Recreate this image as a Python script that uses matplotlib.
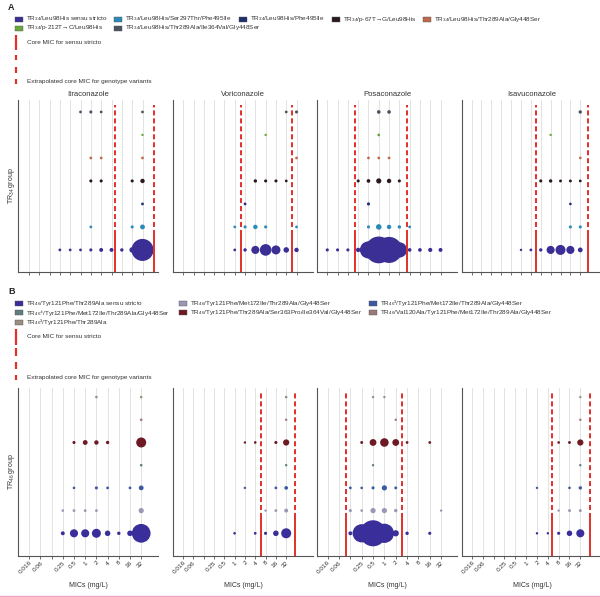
import numpy as np
import matplotlib
matplotlib.use('Agg')
import matplotlib.pyplot as plt
from matplotlib.lines import Line2D
from matplotlib.patches import Rectangle

plt.rcParams['font.family'] = ['Liberation Sans', 'DejaVu Sans']
plt.rcParams['mathtext.fontset'] = 'custom'
plt.rcParams['mathtext.rm'] = 'Liberation Sans'
plt.rcParams['mathtext.it'] = 'Liberation Sans'
plt.rcParams['mathtext.bf'] = 'Liberation Sans:bold'

W, H = 600, 597
RED = '#e3302a'
K = 2.0     # marker area per isolate
BASE = 2.0  # smallest marker area

DRUGS = ['Itraconazole', 'Voriconazole', 'Posaconazole', 'Isavuconazole']
MIC_B = ['0.016', '0.06', '', '0.25', '0.5', '1', '2', '4', '8', '16', '32']

A_LABELS = [r'TR$_{34}$/Leu98His sensu stricto',
            r'TR$_{34}$/Leu98His/Ser297Thr/Phe495Ile',
            r'TR$_{34}$/Leu98His/Phe495Ile',
            r'TR$_{34}$/p-67T→G/Leu98His',
            r'TR$_{34}$/Leu98His/Thr289Ala/Gly448Ser',
            r'TR$_{34}$/p-212T→C/Leu98His',
            r'TR$_{34}$/Leu98His/Thr289Ala/Ile364Val/Gly448Ser']
A_COLORS = ['#3b2f96', '#2a8ab8', '#1f2e6c', '#2a1a1e', '#c0694a', '#6aa83c', '#4b5464']

B_LABELS = [r'TR$_{46}$/Tyr121Phe/Thr289Ala sensu stricto',
            r'TR$_{46}$/Tyr121Phe/Met172Ile/Thr289Ala/Gly448Ser',
            r'TR$_{46}$³/Tyr121Phe/Met172Ile/Thr289Ala/Gly448Ser',
            r'TR$_{46}$⁴/Tyr121Phe/Met172Ile/Thr289Ala/Gly448Ser',
            r'TR$_{46}$/Tyr121Phe/Thr289Ala/Ser363Pro/Ile364Val/Gly448Ser',
            r'TR$_{46}$/Val120Ala/Tyr121Phe/Met172Ile/Thr289Ala/Gly448Ser',
            r'TR$_{46}$³/Tyr121Phe/Thr289Ala']
B_COLORS = ['#3a2f9a', '#9a96b4', '#3c5aa0', '#5f7e80', '#6e1a24', '#9a7a78', '#9a9080']

# dots: (row, MIC index, isolates)
A_ITRA = [(0, 3, 1), (0, 4, 1), (0, 5, 1), (0, 6, 1.5), (0, 7, 3), (0, 8, 3), (0, 9, 2),
          (0, 10, 7), (0, 11, 125),
          (1, 6, 1), (1, 10, 1.5), (1, 11, 5),
          (2, 11, 1),
          (3, 6, 1.5), (3, 7, 1.5), (3, 10, 1.5), (3, 11, 4),
          (4, 6, 1), (4, 7, 1), (4, 11, 1),
          (5, 11, 0.5),
          (6, 5, 1), (6, 6, 1.5), (6, 7, 1), (6, 11, 1)]
A_VORI = [(0, 5, 1), (0, 6, 2), (0, 7, 16), (0, 8, 34), (0, 9, 20), (0, 10, 7), (0, 11, 4),
          (1, 5, 1), (1, 6, 1.5), (1, 7, 4), (1, 8, 1.5), (1, 11, 1),
          (2, 6, 1),
          (3, 7, 2), (3, 8, 1.5), (3, 9, 1.5), (3, 10, 1),
          (4, 11, 1),
          (5, 8, 0.5),
          (6, 10, 1), (6, 11, 1.5)]
A_POSA = [(0, 0, 1.5), (0, 1, 1.5), (0, 2, 1.5), (0, 3, 4), (0, 4, 75), (0, 5, 185),
          (0, 6, 175), (0, 7, 60), (0, 8, 2.5), (0, 9, 2.5), (0, 10, 3.5), (0, 11, 3),
          (1, 4, 1.5), (1, 5, 7), (1, 6, 4), (1, 7, 2), (1, 8, 1),
          (2, 4, 1.5),
          (3, 3, 1.5), (3, 4, 2.5), (3, 5, 6), (3, 6, 4), (3, 7, 1.5),
          (4, 4, 1), (4, 5, 1), (4, 6, 1),
          (5, 5, 1),
          (6, 5, 2.5), (6, 6, 2.5)]
A_ISAV = [(0, 5, 0.5), (0, 6, 1), (0, 7, 2), (0, 8, 16), (0, 9, 25), (0, 10, 16), (0, 11, 5),
          (1, 10, 1.5), (1, 11, 1.5),
          (2, 10, 0.8),
          (3, 7, 1.5), (3, 8, 2), (3, 9, 1.2), (3, 10, 1.2), (3, 11, 1),
          (4, 11, 0.8),
          (5, 8, 0.5),
          (6, 11, 2)]

B_ITRA = [(0, 3, 3), (0, 4, 16), (0, 5, 16), (0, 6, 20), (0, 7, 7), (0, 8, 2), (0, 9, 7),
          (0, 10, 90),
          (1, 3, 0.8), (1, 4, 1), (1, 5, 1), (1, 6, 1), (1, 10, 6),
          (2, 4, 0.8), (2, 6, 1.5), (2, 7, 1), (2, 9, 1), (2, 10, 5),
          (3, 10, 0.8),
          (4, 4, 1.5), (4, 5, 5), (4, 6, 4), (4, 7, 2), (4, 10, 25),
          (5, 10, 0.8),
          (6, 6, 0.8), (6, 10, 0.8)]
B_VORI = [(0, 5, 0.8), (0, 7, 1), (0, 8, 1.5), (0, 9, 7), (0, 10, 25),
          (1, 8, 0.5), (1, 9, 1), (1, 10, 3),
          (2, 6, 0.5), (2, 9, 1), (2, 10, 2.5),
          (3, 10, 0.5),
          (4, 6, 0.5), (4, 7, 0.8), (4, 9, 1.5), (4, 10, 9),
          (5, 10, 0.5),
          (6, 10, 0.8)]
B_POSA = [(0, 2, 3), (0, 3, 85), (0, 4, 175), (0, 5, 95), (0, 6, 9), (0, 7, 2), (0, 9, 1.5),
          (1, 2, 1.5), (1, 3, 0.8), (1, 4, 6), (1, 5, 6), (1, 6, 2), (1, 10, 0.5),
          (2, 2, 1), (2, 3, 0.8), (2, 4, 1.5), (2, 5, 6), (2, 6, 1.2),
          (3, 4, 0.5),
          (4, 3, 1.2), (4, 4, 11), (4, 5, 18), (4, 6, 11), (4, 7, 1), (4, 9, 1),
          (5, 6, 0.5),
          (6, 4, 0.5), (6, 5, 0.5)]
B_ISAV = [(0, 6, 0.5), (0, 7, 0.5), (0, 8, 1.5), (0, 9, 7), (0, 10, 16),
          (1, 8, 0.5), (1, 9, 1.2), (1, 10, 1.2),
          (2, 6, 0.5), (2, 9, 0.8), (2, 10, 2),
          (3, 10, 0.5),
          (4, 8, 0.8), (4, 9, 1.2), (4, 10, 9),
          (5, 10, 0.5),
          (6, 10, 0.5)]

# core MIC lines (MIC index position) per drug
A_CORE = [(8.35, 12.1), (5.58, 10.55), (2.7, 7.7), (6.5, 11.75)]
B_CORE = [None, (7.6, 10.9), (1.65, 6.56), (7.4, 10.9)]

fig = plt.figure(figsize=(W / 100, H / 100), dpi=100)


def fx(x):
    return x / W


def fy(y):
    return 1 - y / H


def draw_panel(ax, dots, colors, core, xlim, ylim, ncat, split, dtop, xlabels):
    ax.set_xlim(*xlim)
    ax.set_ylim(*ylim)
    for i in range(ncat):
        ax.axvline(i, color='#dedede', lw=0.6, zorder=0)
    dots = sorted(dots, key=lambda d: -d[2])
    rows = [d[0] for d in dots]
    xs = [d[1] for d in dots]
    ns = np.array([d[2] for d in dots])
    ax.scatter(xs, rows, s=ns * K + BASE, c=[colors[r] for r in rows], linewidths=0, zorder=3)
    if core:
        for x in core:
            ax.plot([x, x], [ylim[0], split], color=RED, lw=1.4, solid_capstyle='butt', zorder=4)
            ax.plot([x, x], [split, dtop], color=RED, lw=1.4, dashes=(2.6, 1.5), zorder=4)
    for s in ['top', 'right']:
        ax.spines[s].set_visible(False)
    for s in ['left', 'bottom']:
        ax.spines[s].set_color('#555555')
        ax.spines[s].set_linewidth(0.8)
    ax.set_yticks([])
    ax.set_xticks(range(ncat))
    ax.tick_params(axis='x', length=2, width=0.6, color='#555555', pad=1)
    if xlabels is None:
        ax.set_xticklabels([])
    else:
        ax.set_xticklabels(xlabels, rotation=45, ha='right', rotation_mode='anchor',
                           fontsize=4.6, color='#333333')
        ax.set_xlabel('MICs (mg/L)', fontsize=5, color='#333333', labelpad=5)


def add_legend(labels, colors, xs, ys, ytop_line, y_core, dash_ys, y_ext):
    for lab, col, x, y in zip(labels, colors, xs, ys):
        fig.patches.append(Rectangle((fx(x), fy(y + 2.5)), fx(8), 5 / H, facecolor=col,
                                     edgecolor='#555555', lw=0.3, transform=fig.transFigure))
        fig.text(fx(x + 11), fy(y), lab, fontsize=4.6, va='center', ha='left', color='#333333')
    fig.add_artist(Line2D([fx(16), fx(16)], [fy(ytop_line[0]), fy(ytop_line[1])],
                          color=RED, lw=1.6, solid_capstyle='butt'))
    fig.text(fx(27), fy(y_core), 'Core MIC for sensu stricto', fontsize=4.6, va='center',
             color='#333333')
    for a, b in dash_ys:
        fig.add_artist(Line2D([fx(16), fx(16)], [fy(a), fy(b)], color=RED, lw=1.6,
                              solid_capstyle='butt'))
    fig.text(fx(27), fy(y_ext), 'Extrapolated core MIC for genotype variants', fontsize=4.6,
             va='center', color='#333333')


# ---- panel A ----
fig.text(fx(8), fy(7), 'A', fontsize=6.5, fontweight='bold', va='center', color='#222222')
add_legend(A_LABELS, A_COLORS,
           [15, 114, 239, 332, 423, 15, 114],
           [19, 19, 19, 19, 19, 28, 28],
           (35, 50), 42, [(55, 60), (67, 73), (79, 84)], 82)

a_lefts = [18, 173, 317, 462]
a_xlims = [(-1.05, 12.5), (-1.0, 12.6), (-1.0, 12.6), (-0.97, 13.2)]
a_data = [A_ITRA, A_VORI, A_POSA, A_ISAV]
for i in range(4):
    ax = fig.add_axes([fx(a_lefts[i]), fy(272), fx(140), (272 - 100) / H])
    draw_panel(ax, a_data[i], A_COLORS, A_CORE[i], a_xlims[i], (-0.96, 6.52), 12,
               0.65, 6.3, None)
    ax.set_title(DRUGS[i], fontsize=5.5, color='#333333', pad=3)
    if i == 0:
        ax.set_ylabel(r'TR$_{34}$ group', fontsize=5, color='#333333')
        ax.yaxis.set_label_coords(-0.005, 0.5)

# ---- panel B ----
fig.text(fx(8), fy(292), 'B', fontsize=6.5, fontweight='bold', va='center', color='#222222')
add_legend(B_LABELS, B_COLORS,
           [15, 179, 369, 15, 179, 369, 15],
           [303, 303, 303, 312.5, 312.5, 312.5, 322],
           (329, 345), 337, [(348, 356), (362, 369), (375, 380)], 378)

b_lefts = [18, 173, 317, 462]
b_xlims = [(-1.0, 11.5), (-0.97, 12.6), (-0.94, 11.4), (-0.92, 12.0)]
b_data = [B_ITRA, B_VORI, B_POSA, B_ISAV]
for i in range(4):
    ax = fig.add_axes([fx(b_lefts[i]), fy(556), fx(140), (556 - 388) / H])
    draw_panel(ax, b_data[i], B_COLORS, B_CORE[i], b_xlims[i], (-1.0, 6.4), 11,
               0.66, 6.2, MIC_B)
    if i == 0:
        ax.set_ylabel(r'TR$_{46}$ group', fontsize=5, color='#333333')
        ax.yaxis.set_label_coords(-0.005, 0.5)

# pink rule at the bottom
fig.add_artist(Line2D([0, 1], [fy(596), fy(596)], color='#f2a3c3', lw=1.0))

fig.savefig('out.png', dpi=100, facecolor='white')
